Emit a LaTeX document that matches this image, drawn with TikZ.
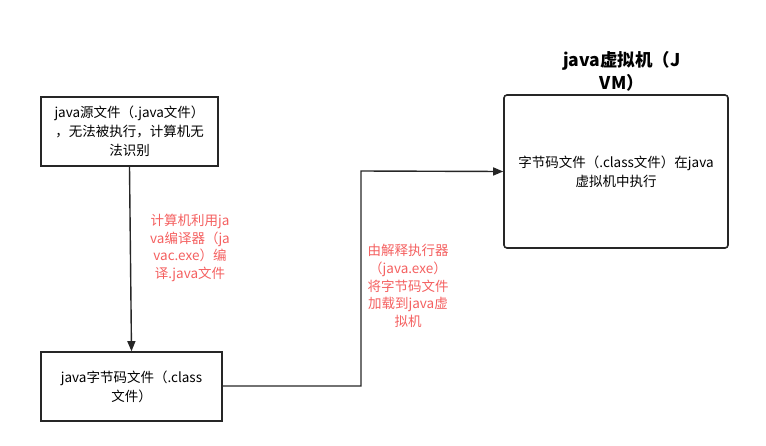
\documentclass[tikz,border=0pt]{standalone}
\usepackage{fontspec}
\setmainfont{Noto Sans CJK SC}
\usetikzlibrary{arrows.meta}
\definecolor{lblred}{RGB}{244,96,96}
\begin{document}
\begin{tikzpicture}[x=1pt,y=-1pt,
  box/.style={draw=black!85,line width=1.6pt,align=center,font=\fontsize{13.5}{19}\selectfont},
  conn/.style={draw=black!85,line width=1.4pt},
  arr/.style={conn,-{Triangle[length=10pt,width=8pt]}},
  lbl/.style={text=lblred,align=center,font=\fontsize{13.5}{17.8}\selectfont}]
\useasboundingbox (0,0) rectangle (766,445);
\node[box,minimum width=177pt,minimum height=69pt] (src) at (129.5,131.5)
  {java源文件（.java文件）\\，无法被执行，计算机无\\法识别};
\node[box,minimum width=181pt,minimum height=69pt] (cls) at (131.5,386.5)
  {java字节码文件（.class\\文件）};
\node[box,rounded corners=3pt,minimum width=224pt,minimum height=153pt] (jvm) at (616,171.5)
  {字节码文件（.class文件）在java\\虚拟机中执行};
\node[font=\bfseries\fontsize{17.5}{23}\selectfont,align=center] (title) at (622,71)
  {java虚拟机（J\\VM）};
\draw[arr] (src.south) -- (cls.north);
\coordinate (bend1) at (361,386);
\coordinate (bend2) at (361,171);
\draw[arr] (cls.east |- bend1) -- (bend1) -- (bend2) -- (jvm.west);
\node[lbl] (l1) at (190,248) {计算机利用ja\\va编译器（ja\\vac.exe）编\\译.java文件};
\node[lbl] (l2) at (408,286) {由解释执行器\\（java.exe）\\将字节码文件\\加载到java虚\\拟机};
\end{tikzpicture}
\end{document}
